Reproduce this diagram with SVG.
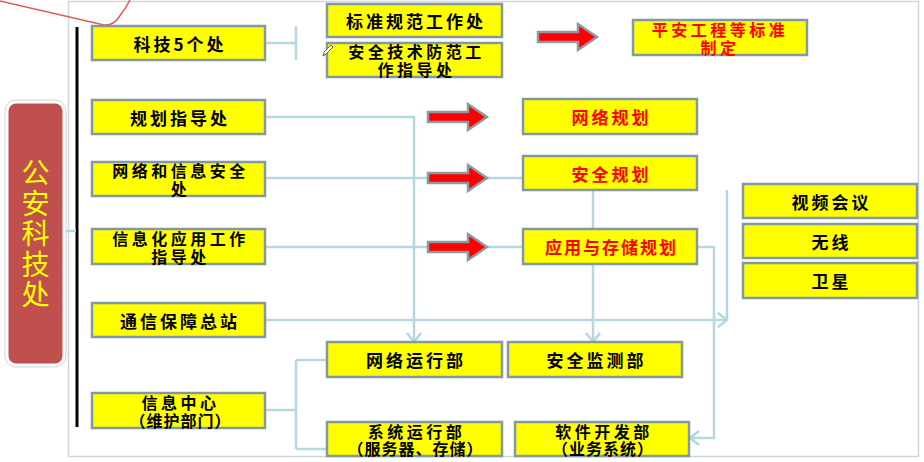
<svg xmlns="http://www.w3.org/2000/svg" width="924" height="462" viewBox="0 0 924 462">
<defs>
<style>
.box{fill:#ffff00;stroke:#8497a5;stroke-width:2.5}
.t{font-family:"Noto Sans CJK SC","Noto Sans",sans-serif;font-size:17px;font-weight:bold;fill:#000;text-anchor:middle;dominant-baseline:central;letter-spacing:3px}
.t2{font-size:16px;letter-spacing:3.5px}
.r{fill:#ff0000}
.c{fill:none;stroke:#b4d8e0;stroke-width:2.5}
.arr{fill:#ff0000;stroke:#8a9aa3;stroke-width:2.5;stroke-linejoin:miter}
</style>
<marker id="m" markerUnits="userSpaceOnUse" markerWidth="14" markerHeight="16" refX="11" refY="8" orient="auto">
<path d="M2,1 L11,8 L2,15" fill="none" stroke="#b4d8e0" stroke-width="2.5"/>
</marker>
<polygon id="ra" points="0,-5 40,-5 40,-13 59,0 40,13 40,5 0,5"/>
</defs>
<rect width="924" height="462" fill="#ffffff"/>
<rect x="68.5" y="1.5" width="850" height="455" fill="none" stroke="#cdd6de" stroke-width="1.5"/>
<path d="M0,1 L104,25 Q113,26 119,17 Q126,8 130,0" fill="none" stroke="#e05a5a" stroke-width="1.5"/>
<line x1="77" y1="27" x2="77" y2="427" stroke="#000" stroke-width="3"/>

<g id="connectors">
<path class="c" d="M64,231 H76"/>
<path class="c" d="M265,43 H296 M296,26 V60"/>
<path class="c" d="M265,117 H414 V342" marker-end="url(#m)"/>
<path class="c" d="M265,178 H523"/>
<path class="c" d="M265,247 H523"/>
<path class="c" d="M593,190 V229"/>
<path class="c" d="M593,264 V342" marker-end="url(#m)"/>
<path class="c" d="M697,247 H714 V438 H690" marker-end="url(#m)"/>
<path class="c" d="M265,320 H727" marker-end="url(#m)"/>
<path class="c" d="M727,190 V320"/>
<path class="c" d="M265,410 H296 M296,360 V449 M296,360 H327 M296,449 H327"/>
</g>

<g id="red-arrows">
<use href="#ra" class="arr" x="538" y="37"/>
<use href="#ra" class="arr" x="428" y="117"/>
<use href="#ra" class="arr" x="428" y="178"/>
<use href="#ra" class="arr" x="428" y="247"/>
</g>

<g id="n-gongan">
<rect x="7" y="102" width="57" height="263" rx="9" fill="#c0504d" stroke="#ffffff" stroke-width="3"/>
<rect x="5" y="100" width="61" height="267" rx="11" fill="none" stroke="#d4d4d4" stroke-width="1"/>
<text font-family="'Noto Sans CJK SC','Noto Sans',sans-serif" font-size="28" fill="#ffff00" text-anchor="middle" dominant-baseline="central">
<tspan x="35.5" y="171">公</tspan><tspan x="35.5" y="201.5">安</tspan><tspan x="35.5" y="232">科</tspan><tspan x="35.5" y="262.5">技</tspan><tspan x="35.5" y="293">处</tspan>
</text>
</g>

<g id="n-keji5"><rect class="box" x="92" y="26" width="173" height="34"/><text class="t" x="180" y="43">科技5个处</text></g>
<g id="n-guihua"><rect class="box" x="92" y="100" width="173" height="34"/><text class="t" x="180" y="117">规划指导处</text></g>
<g id="n-wangluoxinxi"><rect class="box" x="92" y="162" width="173" height="34"/><text class="t t2"><tspan x="180.5" y="170">网络和信息安全</tspan><tspan x="180.5" y="188">处</tspan></text></g>
<g id="n-xinxihua"><rect class="box" x="92" y="229" width="173" height="35"/><text class="t t2"><tspan x="180.5" y="237.5">信息化应用工作</tspan><tspan x="180.5" y="255.5">指导处</tspan></text></g>
<g id="n-tongxin"><rect class="box" x="92" y="303" width="173" height="34"/><text class="t" x="180" y="320">通信保障总站</text></g>
<g id="n-xinxizhongxin"><rect class="box" x="92" y="393" width="173" height="35"/><text class="t t2"><tspan x="180.5" y="402">信息中心</tspan><tspan x="180.5" y="420" style="letter-spacing:1px">（维护部门）</tspan></text></g>

<g id="n-biaozhun"><rect class="box" x="327" y="4" width="175" height="33"/><text class="t" x="416" y="20.5">标准规范工作处</text></g>
<g id="n-anquanjishu"><rect class="box" x="327" y="43" width="175" height="34"/><text class="t t2"><tspan x="416.5" y="51">安全技术防范工</tspan><tspan x="416.5" y="69">作指导处</tspan></text></g>
<g id="pencil"><path d="M323,56 L324,52 L331,45 L333,47 L326,54 Z M323,56 L326,54" fill="#ffffff" stroke="#666" stroke-width="1"/></g>

<g id="n-pingan"><rect class="box" x="633" y="20" width="174" height="35"/><text class="t t2 r"><tspan x="720" y="28.5">平安工程等标准</tspan><tspan x="720" y="46.5">制定</tspan></text></g>
<g id="n-wlgh"><rect class="box" x="523" y="99" width="174" height="35"/><text class="t r" x="611.5" y="116.5">网络规划</text></g>
<g id="n-aqgh"><rect class="box" x="523" y="156" width="174" height="34"/><text class="t r" x="611.5" y="173">安全规划</text></g>
<g id="n-yygh"><rect class="box" x="523" y="229" width="174" height="35"/><text class="t r" x="611.5" y="246.5" style="letter-spacing:2px">应用与存储规划</text></g>

<g id="n-shipin"><rect class="box" x="743" y="184" width="174" height="34"/><text class="t" x="831.5" y="201">视频会议</text></g>
<g id="n-wuxian"><rect class="box" x="743" y="224" width="174" height="34"/><text class="t" x="831.5" y="241">无线</text></g>
<g id="n-weixing"><rect class="box" x="743" y="263" width="174" height="35"/><text class="t" x="831.5" y="280.5">卫星</text></g>

<g id="n-wlyx"><rect class="box" x="327" y="342" width="175" height="35"/><text class="t" x="416" y="359.5">网络运行部</text></g>
<g id="n-aqjc"><rect class="box" x="508" y="342" width="174" height="35"/><text class="t" x="596.5" y="359.5">安全监测部</text></g>
<g id="n-xtyx"><rect class="box" x="327" y="422" width="175" height="34"/><text class="t t2"><tspan x="416.5" y="430.5">系统运行部</tspan><tspan x="415.5" y="447.5" style="letter-spacing:1px">（服务器、存储）</tspan></text></g>
<g id="n-rjkf"><rect class="box" x="515" y="422" width="174" height="34"/><text class="t t2"><tspan x="604" y="430.5">软件开发部</tspan><tspan x="603" y="447.5" style="letter-spacing:1px">（业务系统）</tspan></text></g>
</svg>
